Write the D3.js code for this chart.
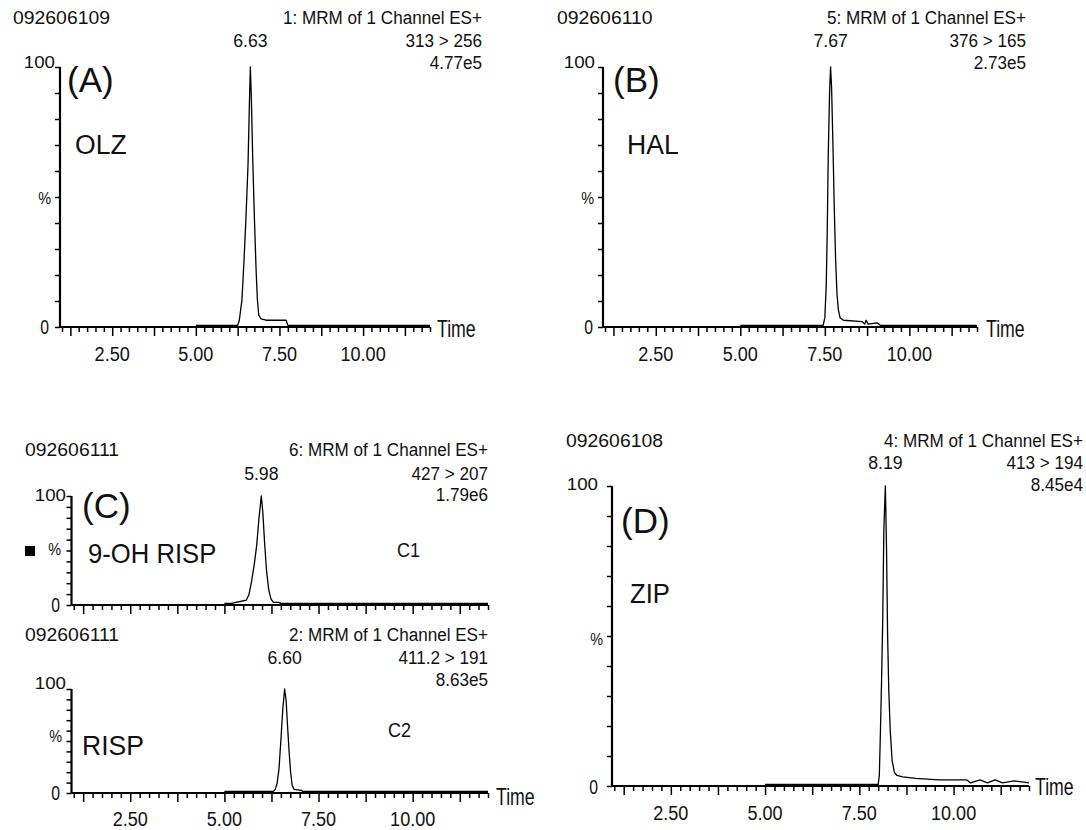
<!DOCTYPE html>
<html>
<head>
<meta charset="utf-8">
<script src="https://cdn.jsdelivr.net/npm/d3@7"></script>
<style>
  html, body { margin: 0; padding: 0; background: #fff; }
  svg { display: block; }
  text { font-family: "Liberation Sans", Arial, sans-serif; fill: #111; }
</style>
</head>
<body>
<svg id="chart" width="1086" height="830"></svg>
<script>
// ---------------- DATA ----------------
const panelKeys      = ["A", "B", "C1", "C2", "D"];
const sampleIds      = ["092606109", "092606110", "092606111", "092606111", "092606108"];
const functionLabels = ["1: MRM of 1 Channel ES+", "5: MRM of 1 Channel ES+", "6: MRM of 1 Channel ES+", "2: MRM of 1 Channel ES+", "4: MRM of 1 Channel ES+"];
const transitions    = ["313 > 256", "376 > 165", "427 > 207", "411.2 > 191", "413 > 194"];
const intensities    = ["4.77e5", "2.73e5", "1.79e6", "8.63e5", "8.45e4"];
const peakTimes      = [6.63, 7.67, 5.98, 6.60, 8.19];
const letterLabels   = ["(A)", "(B)", "(C)", "", "(D)"];
const compoundLabels = ["OLZ", "HAL", "9-OH RISP", "RISP", "ZIP"];
const channelLabels  = ["", "", "C1", "C2", ""];
const xTickLabels    = [2.5, 5.0, 7.5, 10.0];
const xDomain        = [0.94, 12.0];
const yDomain        = [0, 100];

// chromatogram traces: [time (min), relative intensity (%)]
const traceA = [[5.0,0],[6.25,0],[6.3,2],[6.38,10],[6.44,25],[6.5,42],[6.56,62],[6.6,85],[6.63,100],[6.66,88],[6.7,65],[6.75,42],[6.8,22],[6.84,10],[6.88,4],[6.95,2.5],[7.1,2],[7.7,2],[7.75,0],[12.0,0]];
const traceB = [[5.0,0],[7.45,0],[7.5,3],[7.54,15],[7.57,35],[7.6,65],[7.64,90],[7.67,100],[7.7,92],[7.74,70],[7.78,45],[7.82,25],[7.86,12],[7.9,6],[7.95,3],[8.05,2],[8.6,1.5],[8.68,0.5],[8.72,2],[8.78,0.5],[9.05,1],[9.15,0],[12.0,0]];
const traceC1 = [[5.0,0],[5.2,0],[5.3,1],[5.45,2],[5.58,3],[5.65,8],[5.72,20],[5.8,38],[5.86,55],[5.92,80],[5.98,100],[6.02,85],[6.07,55],[6.12,30],[6.18,12],[6.24,4],[6.3,1],[6.45,1],[6.5,0],[12.0,0]];
const traceC2 = [[5.0,0],[6.3,0],[6.35,2],[6.4,8],[6.45,22],[6.5,50],[6.55,80],[6.6,100],[6.64,88],[6.68,62],[6.72,38],[6.76,18],[6.8,6],[6.85,2],[7.05,1],[7.08,0],[12.0,0]];
const traceD = [[5.0,0],[8.0,0],[8.03,3],[8.06,18],[8.09,35],[8.12,55],[8.15,85],[8.19,100],[8.22,80],[8.25,50],[8.28,32],[8.32,18],[8.37,8],[8.43,4],[8.5,3],[8.65,2.5],[9.0,2],[9.6,1.5],[10.35,1.5],[10.45,0.5],[10.7,1.5],[10.9,0.5],[11.1,1.5],[11.3,0.5],[11.6,1.2],[12.0,0.5]];
const traces = [traceA, traceB, traceC1, traceC2, traceD];

// ---------------- LAYOUT ----------------
const layout = {
  A:  {x0:60,  x1:430,  yTop:67,  yBase:327, left:13,  right:482,  hdr:24,  l2:47,  l3:69,  letter:[67,92],   comp:[75,154], compSize:28, chan:null, yl:{x100:55, b100:68, xp:51, bp:204, x0:49, b0:334}, xLabels:361, time:[437,337], square:false},
  B:  {x0:603, x1:977,  yTop:67,  yBase:327, left:557, right:1026, hdr:24,  l2:47,  l3:69,  letter:[613,92],  comp:[627,154], compSize:28, chan:null, yl:{x100:595, b100:68, xp:594, bp:204, x0:593, b0:334}, xLabels:361, time:[986,337], square:false},
  C1: {x0:71.5,x1:488,  yTop:496, yBase:605, left:25,  right:488,  hdr:456, l2:480, l3:501, letter:[82,518],  comp:[88,563], compSize:27, chan:[397,557], yl:{x100:66, b100:501, xp:61, bp:555, x0:60, b0:612}, xLabels:null, time:null, square:true},
  C2: {x0:71.5,x1:488,  yTop:689, yBase:793, left:25,  right:488,  hdr:641, l2:664, l3:686, letter:null,      comp:[82,755], compSize:28, chan:[388,737], yl:{x100:66, b100:689, xp:62, bp:742, x0:60, b0:800}, xLabels:826, time:[496,805], square:false},
  D:  {x0:612, x1:1029, yTop:486, yBase:786, left:566, right:1083, hdr:447, l2:469, l3:491, letter:[621,533], comp:[630,603], compSize:27, chan:null, yl:{x100:598, b100:490, xp:603, bp:645, x0:598, b0:794}, xLabels:820, time:[1035,795], square:false}
};

const svg = d3.select("#chart");

function txt(g, x, y, s, size, anchor, sx) {
  return g.append("text")
    .attr("transform", `translate(${x},${y}) scale(${sx || 1},1)`)
    .attr("text-anchor", anchor || "start")
    .style("font-size", size + "px")
    .text(s);
}

panelKeys.forEach((key, i) => {
  const L = layout[key];
  const g = svg.append("g");
  const x = d3.scaleLinear().domain(xDomain).range([L.x0, L.x1]);
  const y = d3.scaleLinear().domain(yDomain).range([L.yBase - 1.6, L.yTop]);
  const yAx = d3.scaleLinear().domain(yDomain).range([L.yBase, L.yTop]);

  // x axis: minor ticks every 0.25, major every 1.25, labels every 2.5
  const tickVals = d3.range(4, 49).map(k => k * 0.25);
  const xAxis = d3.axisBottom(x)
    .tickValues(tickVals)
    .tickSizeOuter(0)
    .tickSize(5)
    .tickFormat("");
  const xg = g.append("g").attr("transform", `translate(0,${L.yBase})`).call(xAxis);
  xg.select(".domain").attr("stroke", "#000").attr("stroke-width", 2.2).attr("d", `M${L.x0},0H${L.x1}`);
  xg.selectAll(".tick line")
    .attr("stroke", "#000").attr("stroke-width", 1.5)
    .attr("y2", d => (Math.abs(d / 1.25 - Math.round(d / 1.25)) < 1e-6 ? 9 : 5));
  if (L.xLabels) {
    xTickLabels.forEach(v => txt(g, x(v), L.xLabels, v.toFixed(2), 21, "middle", 0.86));
  }

  // y axis: ticks every 10 %
  const yAxis = d3.axisLeft(yAx).tickValues(d3.range(0, 101, 10)).tickSize(5).tickSizeOuter(0).tickFormat("");
  const yg = g.append("g").attr("transform", `translate(${L.x0},0)`).call(yAxis);
  yg.select(".domain").attr("stroke", "#000").attr("stroke-width", 2.2).attr("d", `M0,${L.yBase}V${L.yTop}`);
  yg.selectAll(".tick line").attr("stroke", "#000").attr("stroke-width", 1.5);

  // y labels
  txt(g, L.yl.x100, L.yl.b100, "100", 17, "end", 1.1);
  txt(g, L.yl.xp, L.yl.bp, "%", 17, "end", 0.85);
  txt(g, L.yl.x0, L.yl.b0, "0", 21, "end", 0.75);
  if (L.time) txt(g, L.time[0], L.time[1], "Time", 23, "start", 0.77);

  // trace
  const line = d3.line().x(d => x(d[0])).y(d => y(d[1]));
  g.append("path").datum(traces[i])
    .attr("d", line)
    .attr("fill", "none")
    .attr("stroke", "#000")
    .attr("stroke-width", 1.3)
    .attr("stroke-linejoin", "round");

  // header texts
  txt(g, L.left, L.hdr, sampleIds[i], 19, "start", 1.02);
  txt(g, L.right, L.hdr, functionLabels[i], 19, "end", 0.9);
  txt(g, L.right, L.l2, transitions[i], 19, "end", 0.9);
  txt(g, L.right, L.l3, intensities[i], 19, "end", 0.9);
  txt(g, x(peakTimes[i]), L.l2, peakTimes[i].toFixed(2), 19, "middle", 0.93);

  // panel annotations
  if (L.letter && letterLabels[i]) txt(g, L.letter[0], L.letter[1], letterLabels[i], 35, "start", 1.0);
  txt(g, L.comp[0], L.comp[1], compoundLabels[i], L.compSize, "start", 0.95);
  if (L.chan && channelLabels[i]) txt(g, L.chan[0], L.chan[1], channelLabels[i], 20, "start", 0.9);
  if (L.square) g.append("rect").attr("x", 25).attr("y", 546).attr("width", 10).attr("height", 10).attr("fill", "#000");
});
</script>
</body>
</html>
